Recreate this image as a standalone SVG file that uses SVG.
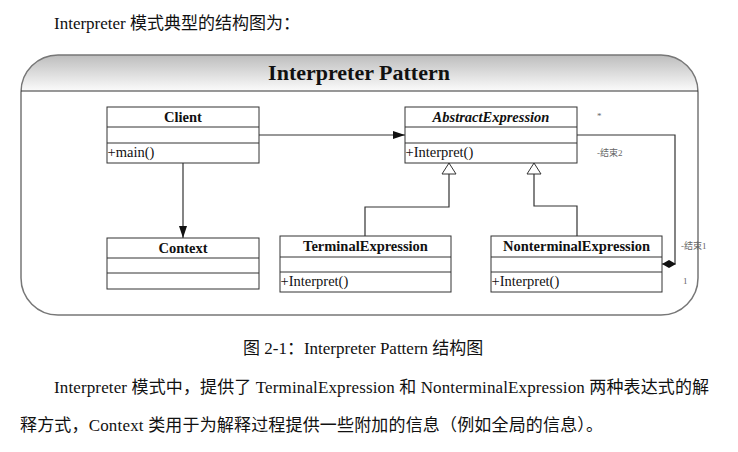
<svg xmlns="http://www.w3.org/2000/svg" width="738" height="452" viewBox="0 0 738 452">
<style>
.txt{font-family:"Liberation Serif","Noto Sans CJK SC",serif;fill:#111}
.page{font-size:17px}
.cls{font-family:"Liberation Serif",serif;font-size:14.5px;font-weight:bold;fill:#111;text-anchor:middle}
.op{font-family:"Liberation Serif",serif;font-size:14.5px;fill:#111}
.box{fill:#fff;stroke:#333;stroke-width:1}
.sep{stroke:#333;stroke-width:1}
.conn{fill:none;stroke:#333;stroke-width:1.2}
.lbl{font-family:"Liberation Serif","Noto Sans CJK SC",serif;font-size:9px;fill:#666}
</style>
<defs>
<linearGradient id="hdr" x1="0" y1="0" x2="0" y2="1">
<stop offset="0" stop-color="#bdbdbd"/>
<stop offset="1" stop-color="#fbfbfb"/>
</linearGradient>
<marker id="arrow" viewBox="0 0 12 8" refX="12" refY="4" markerWidth="12" markerHeight="8" markerUnits="userSpaceOnUse" orient="auto">
<path d="M0,0 L12,4 L0,8 z" fill="#111"/>
</marker>
<marker id="tri" viewBox="0 0 12 16" refX="11.5" refY="8" markerWidth="12" markerHeight="16" markerUnits="userSpaceOnUse" orient="auto">
<path d="M0.5,1 L11.5,8 L0.5,15 z" fill="#fff" stroke="#333" stroke-width="1"/>
</marker>
<marker id="diamond" viewBox="0 0 15 9" refX="14.5" refY="4.5" markerWidth="15" markerHeight="9" markerUnits="userSpaceOnUse" orient="auto">
<path d="M0.5,4.5 L7.5,0.5 L14.5,4.5 L7.5,8.5 z" fill="#111"/>
</marker>
</defs>
<rect width="738" height="452" fill="#fff"/>
<text class="txt page" x="54" y="29">Interpreter 模式典型的结构图为：</text>
<g id="frame">
<path d="M21,91 A37,36 0 0 1 58,55 H661 A37,36 0 0 1 698,91 Z" fill="url(#hdr)"/>
<rect x="21" y="55" width="677" height="260" rx="37" ry="37" fill="none" stroke="#777" stroke-width="1.5"/>
<line x1="21" y1="91" x2="698" y2="91" stroke="#333" stroke-width="1.2"/>
<text x="359" y="80" style="font-family:'Liberation Serif',serif;font-size:22px;font-weight:bold;fill:#111" text-anchor="middle">Interpreter Pattern</text>
</g>
<g id="connectors">
<path class="conn" d="M183,163 V238" marker-end="url(#arrow)"/>
<path class="conn" d="M259,135 H405" marker-end="url(#arrow)"/>
<path class="conn" d="M365,236 V207 H449 V163" marker-end="url(#tri)"/>
<path class="conn" d="M577,236 V206 H534 V163" marker-end="url(#tri)"/>
<path class="conn" d="M577,135 H675 V264 H662" marker-end="url(#diamond)"/>
<text class="lbl" x="597" y="119">*</text>
<text class="lbl" x="597" y="156">-结束2</text>
<text class="lbl" x="681" y="249">-结束1</text>
<text class="lbl" x="683" y="284">1</text>
</g>
<g id="client">
<rect class="box" x="107" y="107" width="152" height="56"/>
<line class="sep" x1="107" y1="127" x2="259" y2="127"/>
<line class="sep" x1="107" y1="143" x2="259" y2="143"/>
<text class="cls" x="183" y="121.5">Client</text>
<text class="op" x="107.5" y="157">+main()</text>
</g>
<g id="context">
<rect class="box" x="107" y="238" width="152" height="51"/>
<line class="sep" x1="107" y1="258" x2="259" y2="258"/>
<line class="sep" x1="107" y1="273" x2="259" y2="273"/>
<text class="cls" x="183" y="252.5">Context</text>
</g>
<g id="abstractExpression">
<rect class="box" x="405" y="107" width="172" height="56"/>
<line class="sep" x1="405" y1="127" x2="577" y2="127"/>
<line class="sep" x1="405" y1="143" x2="577" y2="143"/>
<text class="cls" x="491" y="121.5" font-style="italic">AbstractExpression</text>
<text class="op" x="405.5" y="157">+Interpret()</text>
</g>
<g id="terminalExpression">
<rect class="box" x="280" y="236" width="171" height="56"/>
<line class="sep" x1="280" y1="257" x2="451" y2="257"/>
<line class="sep" x1="280" y1="272" x2="451" y2="272"/>
<text class="cls" x="365.5" y="250.5">TerminalExpression</text>
<text class="op" x="280.5" y="286">+Interpret()</text>
</g>
<g id="nonterminalExpression">
<rect class="box" x="491" y="236" width="171" height="56"/>
<line class="sep" x1="491" y1="257" x2="662" y2="257"/>
<line class="sep" x1="491" y1="272" x2="662" y2="272"/>
<text class="cls" x="576.5" y="250.5">NonterminalExpression</text>
<text class="op" x="491.5" y="286">+Interpret()</text>
</g>
<text class="txt page" x="243" y="354">图 2-1：Interpreter Pattern 结构图</text>
<text class="txt page" x="54" y="393" textLength="655" lengthAdjust="spacing">Interpreter 模式中，提供了 TerminalExpression 和 NonterminalExpression 两种表达式的解</text>
<text class="txt page" x="20" y="431" textLength="583" lengthAdjust="spacing">释方式，Context 类用于为解释过程提供一些附加的信息（例如全局的信息）。</text>
</svg>
